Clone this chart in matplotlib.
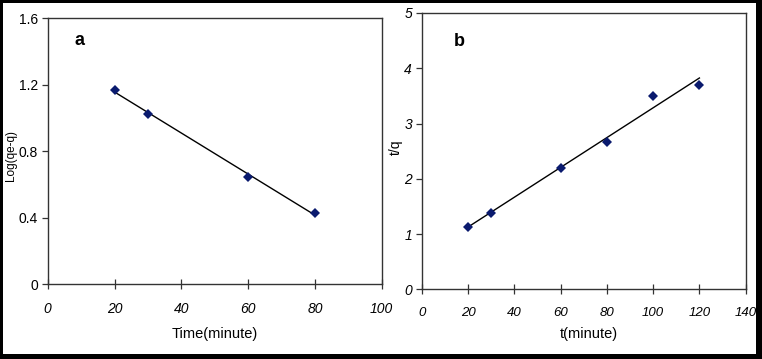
import matplotlib.pyplot as plt
import matplotlib.patches as mpatches
import numpy as np

plt.rcParams['font.family'] = ['Liberation Sans', 'DejaVu Sans']

# panel a: pseudo-first-order
time_a = [20, 30, 60, 80]
logq_a = [1.17, 1.025, 0.645, 0.43]

# panel b: pseudo-second-order
time_b = [20, 30, 60, 80, 100, 120]
tq_b = [1.13, 1.38, 2.2, 2.67, 3.5, 3.7]

marker_color = '#0a1a6e'

W, H = 762, 359
fig = plt.figure(figsize=(W / 100, H / 100), dpi=100)

ax1 = fig.add_axes([47.7 / W, 1 - 284.3 / H, 334 / W, 266 / H])
ax2 = fig.add_axes([421.7 / W, 1 - 289.3 / H, 324 / W, 276.3 / H])


def style(ax, xlim, xticks, ylim, yticks, ylab_italic, xsize=10):
    ax.set_xlim(*xlim)
    ax.set_ylim(*ylim)
    ax.set_xticks(xticks)
    ax.set_yticks(yticks)
    for s in ax.spines.values():
        s.set_color('#333333')
        s.set_linewidth(1.0)
    ax.tick_params(axis='x', direction='inout', length=7, width=0.9,
                   labelsize=xsize, pad=9, color='#333333')
    ax.tick_params(axis='y', direction='out', length=4, width=0.9,
                   labelsize=10, pad=3, color='#333333')
    for t in ax.get_xticklabels():
        t.set_fontstyle('italic')
    if ylab_italic:
        for t in ax.get_yticklabels():
            t.set_fontstyle('italic')


# left panel
style(ax1, (0, 100), np.arange(0, 101, 20), (0, 1.6),
      [0, 0.4, 0.8, 1.2, 1.6], False)
ax1.set_yticklabels(['0', '0.4', '0.8', '1.2', '1.6'])
k, b = np.polyfit(time_a, logq_a, 1)
xa = np.array([time_a[0], time_a[-1]])
ax1.plot(xa, k * xa + b, color='black', lw=1.0)
ax1.plot(time_a, logq_a, 'D', color=marker_color, ms=5, mew=0)
ax1.set_xlabel('Time(minute)', fontsize=10.5)
ax1.set_ylabel('Log(qe-q)', fontsize=8.5)
ax1.xaxis.set_label_coords(0.5, -0.16)
ax1.yaxis.set_label_coords(-0.092, 0.486)
ax1.text(8, 1.44, 'a', fontsize=13, fontweight='bold')

# right panel
style(ax2, (0, 140), np.arange(0, 141, 20), (0, 5),
      [0, 1, 2, 3, 4, 5], True, xsize=9.5)
k, b = np.polyfit(time_b, tq_b, 1)
xb = np.array([time_b[0], time_b[-1]])
ax2.plot(xb, k * xb + b, color='black', lw=1.0)
ax2.plot(time_b, tq_b, 'D', color=marker_color, ms=5, mew=0)
ax2.set_xlabel('t(minute)', fontsize=10.5)
ax2.set_ylabel('t/q', fontsize=10)
ax2.xaxis.set_label_coords(0.515, -0.136)
ax2.yaxis.set_label_coords(-0.058, 0.515)
ax2.text(14, 4.4, 'b', fontsize=13, fontweight='bold')

# outer black frame (pixel edges: left 3, top 3, right 6, bottom 5)
for x0, y0, w, h in [(0, 0, 3, H), (0, 0, W, 3), (W - 6, 0, 6, H), (0, H - 5, W, 5)]:
    fig.patches.append(mpatches.Rectangle((x0 / W, 1 - (y0 + h) / H), w / W, h / H,
                                          transform=fig.transFigure,
                                          color='black', lw=0))

fig.savefig('out.png', dpi=100)
